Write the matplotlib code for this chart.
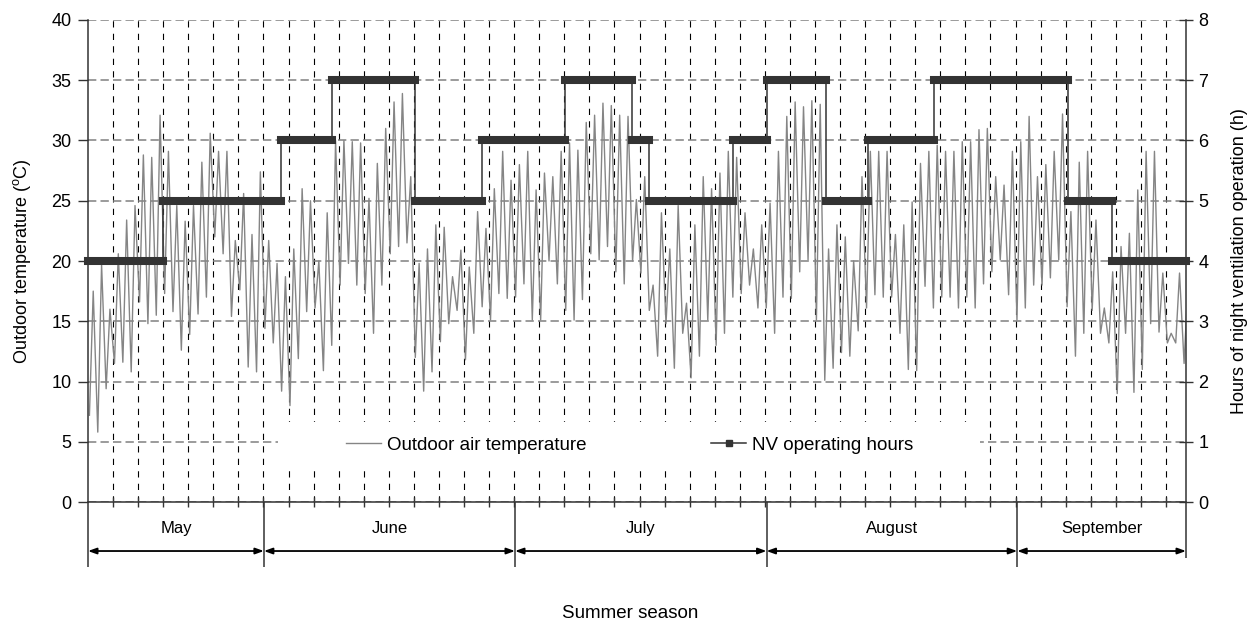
import numpy as np
import matplotlib
matplotlib.use('Agg')
import matplotlib.pyplot as plt
from matplotlib.lines import Line2D
from matplotlib.patches import Rectangle

plt.rcParams['font.family'] = ['Liberation Sans', 'DejaVu Sans']
plt.rcParams['mathtext.fontset'] = 'custom'
plt.rcParams['mathtext.rm'] = 'Liberation Sans'
plt.rcParams['lines.scale_dashes'] = False

# ---- data ----
# daily minimum / maximum outdoor air temperature (deg C), day 0 = start of record
t_min = [7.2, 5.8, 9.4, 11.5, 11.6, 10.8, 16.6, 14.8, 15.5, 17.3,
         15.8, 12.6, 13.9, 15.6, 17.0, 22.0, 20.6, 15.4, 17.6, 11.2,
         10.8, 14.4, 13.2, 9.2, 8.0, 11.9, 15.8, 16.1, 10.9, 13.0,
         18.0, 19.8, 18.0, 17.3, 14.0, 18.0, 20.6, 21.2, 21.5, 12.0,
         9.2, 10.8, 13.3, 14.8, 15.9, 11.8, 14.0, 16.2, 15.1, 17.3,
         16.9, 17.0, 18.1, 15.1, 15.1, 20.0, 18.1, 15.9, 15.1, 16.8,
         20.6, 20.1, 21.2, 19.1, 18.1, 20.0, 19.0, 15.9, 12.1, 14.8,
         11.1, 14.0, 10.3, 12.1, 15.1, 13.0, 14.0, 17.0, 17.3, 18.0,
         16.1, 16.1, 14.0, 17.0, 16.9, 19.1, 20.1, 15.1, 10.1, 11.1,
         12.4, 12.1, 14.2, 16.1, 17.2, 17.0, 17.0, 14.0, 11.0, 10.9,
         17.9, 16.1, 17.0, 17.0, 16.1, 17.0, 16.1, 18.1, 19.1, 20.1,
         17.2, 15.1, 16.1, 18.0, 18.0, 18.6, 20.1, 16.2, 12.1, 14.0,
         15.9, 14.0, 13.2, 9.0, 14.0, 9.1, 11.0, 14.8, 14.1, 13.2,
         13.2, 11.5]
t_max = [17.5, 19.7, 16.0, 20.6, 23.4, 24.6, 28.8, 28.6, 32.1, 29.1,
         24.6, 23.3, 24.6, 28.2, 30.6, 29.1, 29.1, 21.7, 25.6, 22.2,
         27.4, 21.7, 19.8, 18.7, 21.0, 26.0, 25.0, 20.0, 24.0, 30.0,
         30.0, 29.9, 29.8, 25.2, 28.1, 31.0, 33.2, 33.9, 27.0, 19.8,
         21.0, 23.0, 22.8, 18.7, 20.9, 19.5, 24.1, 22.7, 26.0, 29.1,
         26.7, 28.0, 29.1, 25.9, 27.3, 27.0, 29.1, 29.8, 29.2, 31.5,
         32.1, 33.1, 32.9, 32.1, 32.0, 25.1, 27.0, 18.0, 24.0, 21.0,
         24.6, 16.5, 23.0, 27.0, 26.0, 27.3, 29.1, 28.6, 24.0, 21.0,
         23.0, 24.8, 29.1, 32.0, 33.2, 32.8, 33.3, 33.0, 21.0, 23.0,
         22.0, 20.0, 27.0, 29.1, 29.1, 29.1, 22.2, 23.0, 24.9, 28.1,
         29.1, 29.6, 29.1, 29.1, 29.9, 29.9, 30.9, 31.0, 27.0, 26.3,
         29.1, 29.9, 32.0, 27.0, 28.0, 29.1, 32.2, 24.1, 28.2, 29.1,
         23.4, 16.1, 19.1, 21.2, 22.3, 25.9, 29.1, 29.1, 19.0, 14.0,
         19.0, 18.0]

# night-ventilation operating hours (step function, edges in days)
nv_edges = [0, 9.0, 23.1, 29.2, 39.1, 47.1, 57.1, 65.1, 67.1, 77.2,
            81.2, 88.3, 93.3, 101.3, 117.3, 122.5, 131.4]
nv_hours = [4, 5, 6, 7, 5, 6, 7, 6, 5, 6, 7, 5, 6, 7, 5, 4]

month_names = ['May', 'June', 'July', 'August', 'September']
month_edges = [0, 21.05, 51.1, 81.2, 111.2, 131.4]

X_END = 131.4
TEMP_COLOR = '#858585'
NV_COLOR = '#333333'

# time of day of daily minimum / maximum
days = np.arange(len(t_min))
x_temp = np.column_stack([days + 0.17, days + 0.625]).ravel()
y_temp = np.column_stack([t_min, t_max]).ravel()

fig = plt.figure(figsize=(12.57, 6.24), dpi=100)
ax = fig.add_axes([0.07001, 0.19551, 0.87351, 0.77244])
ax.set_xlim(0, X_END)
ax.set_ylim(0, 40)
ax.set_xticks(np.arange(3, X_END, 3))
ax.set_xticklabels([])
ax.set_yticks(range(0, 41, 5))
ax.tick_params(axis='x', direction='inout', length=7, width=1, color='#333333')
ax.tick_params(axis='y', direction='out', length=7, width=1, color='#333333',
               labelsize=13, pad=5)
ax.xaxis.grid(True, color='black', lw=0.8, linestyle=(0, (4.5, 4.5)))
ax.yaxis.grid(True, color='#808080', lw=1.1, linestyle=(0, (6, 3)))
ax.set_axisbelow(True)
for s in ['top', 'right']:
    ax.spines[s].set_visible(False)
for s in ['left', 'bottom']:
    ax.spines[s].set_color('#333333')
    ax.spines[s].set_linewidth(1.1)

ax.plot(x_temp, y_temp, color=TEMP_COLOR, lw=1.0, zorder=2)

# white legend background
ax.add_patch(Rectangle((0.173, 0.0705), 0.6394, 0.0955, transform=ax.transAxes,
                       facecolor='white', edgecolor='none', zorder=1))

ax.set_ylabel('Outdoor temperature ($^{\\mathrm{o}}$C)', fontsize=13)
ax.yaxis.set_label_coords(-0.050, 0.5)

ax2 = ax.twinx()
ax2.set_ylim(0, 8)
ax2.set_yticks(range(0, 9))
ax2.tick_params(axis='y', direction='inout', length=10, width=1, color='#333333',
                labelsize=13, pad=4)
for s in ['top', 'left', 'bottom']:
    ax2.spines[s].set_visible(False)
ax2.spines['right'].set_color('#333333')
ax2.spines['right'].set_linewidth(1.1)

ax2.stairs(nv_hours, nv_edges, baseline=None, color=NV_COLOR, lw=1.1)
for e0, e1, h in zip(nv_edges[:-1], nv_edges[1:], nv_hours):
    ax2.plot([e0, e1], [h, h], color=NV_COLOR, lw=5.8,
             solid_capstyle='projecting', clip_on=False)

ax2.set_ylabel('Hours of night ventilation operation (h)', fontsize=13)
ax2.yaxis.set_label_coords(1.041, 0.5)

handles = [Line2D([], [], color=TEMP_COLOR, lw=1.0),
           Line2D([], [], color=NV_COLOR, lw=1.1, marker='s', markersize=4.5)]
ax2.legend(handles, ['Outdoor air temperature', 'NV operating hours'],
           loc='center', bbox_to_anchor=(0.4932, 0.1183), ncol=2, frameon=False,
           fontsize=13.5, handlelength=1.87, handletextpad=0.32, columnspacing=6.67)

# month annotation under the axis
trans = ax.get_xaxis_transform()
for i, name in enumerate(month_names):
    x0, x1 = month_edges[i], month_edges[i + 1]
    ax.text((x0 + x1) / 2, -0.056, name, transform=trans, ha='center',
            va='center', fontsize=12)
    ax.annotate('', xy=(x1, -0.1017), xytext=(x0, -0.1017),
                xycoords=trans, textcoords=trans, annotation_clip=False,
                arrowprops=dict(arrowstyle='<|-|>,head_length=0.5,head_width=0.18',
                                color='black', lw=1.3, shrinkA=0, shrinkB=0,
                                mutation_scale=10))
ax.vlines(month_edges[:-1], -0.135, 0, transform=trans, colors='#333333',
          lw=1.1, clip_on=False)
ax.vlines(month_edges[-1:], -0.116, 0, transform=trans, colors='#333333',
          lw=1.1, clip_on=False)

fig.text(630 / 1257, 1 - 613 / 624, 'Summer season', ha='center', va='center',
         fontsize=13.5)

fig.savefig('out.png', dpi=100)
